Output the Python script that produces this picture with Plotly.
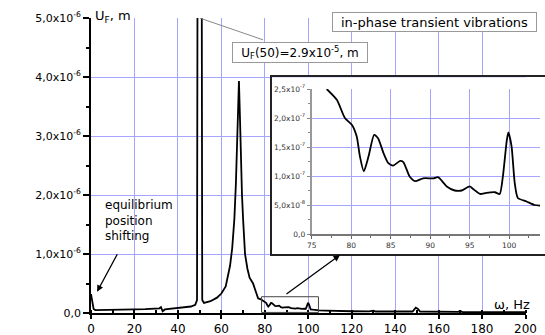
import plotly.graph_objects as go

# ---------------- data ----------------
# main curve, low-frequency part (x in Hz, y in 1e-6 m)
low_x = [0, 0.3, 0.7, 1.2, 2, 5, 10, 15, 20, 25, 30, 31.5, 32.2, 33, 34, 36, 40, 44, 46, 48, 48.8,
         50, 51.2, 52, 55, 58, 60, 62, 63, 64, 65, 66, 66.7, 67.3, 67.8, 68.1, 68.5, 69, 69.5,
         70, 70.9, 72, 73, 74.6, 76]
low_y = [0.32, 0.25, 0.12, 0.07, 0.05, 0.05, 0.05, 0.055, 0.06, 0.065, 0.07, 0.08, 0.10, 0.03, 0.06,
         0.07, 0.08, 0.10, 0.11, 0.14, 0.22,
         29.0, 0.22, 0.17, 0.20, 0.26, 0.33, 0.45, 0.6, 0.8, 1.1, 1.6, 2.2, 3.0, 3.7, 3.93, 3.4, 2.6,
         2.0, 1.6, 1.0, 0.75, 0.6, 0.5, 0.33]

# zoomed region (x in Hz, y in 1e-7 m)
zoom_x = [76.9, 78.2, 79.2, 80.1, 80.7, 81.1, 81.6, 82.2, 82.9, 83.4, 84.1, 84.7, 85.3, 86.2, 86.6,
          87.4, 88.1, 89.1, 90.4, 91.0, 92.1, 93.1, 94.0, 95.0, 95.4, 96.3, 97.1, 98.2, 98.8, 99.2,
          99.7, 99.9, 100.3, 100.7, 101.1, 102.2, 103.2, 103.9]
zoom_y = [2.50, 2.31, 2.00, 1.88, 1.68, 1.34, 1.08, 1.34, 1.71, 1.65, 1.39, 1.22, 1.18, 1.26, 1.24,
          0.99, 0.91, 0.96, 0.96, 0.98, 0.82, 0.75, 0.75, 0.82, 0.78, 0.69, 0.71, 0.72, 0.69, 0.99,
          1.62, 1.75, 1.51, 0.88, 0.62, 0.56, 0.50, 0.49]

# main curve, high-frequency part (x in Hz, y in 1e-6 m)
high_x = [105, 108, 112, 120, 128, 130, 131, 140, 148, 149.5, 150.5, 151.5, 160, 169, 170, 171,
          180, 190, 200]
high_y = [0.045, 0.04, 0.035, 0.03, 0.028, 0.04, 0.025, 0.025, 0.025, 0.09, 0.07, 0.025, 0.02,
          0.02, 0.035, 0.015, 0.015, 0.015, 0.015]

main_tickvals = [0, 1e-6, 2e-6, 3e-6, 4e-6, 5e-6]
main_ticktext = ["0,0", "1,0x10<sup>-6</sup>", "2,0x10<sup>-6</sup>", "3,0x10<sup>-6</sup>",
                 "4,0x10<sup>-6</sup>", "5,0x10<sup>-6</sup>"]
inset_tickvals = [0, 0.5e-7, 1.0e-7, 1.5e-7, 2.0e-7, 2.5e-7]
inset_ticktext = ["0,0", "5,0x10<sup>-8</sup>", "1,0x10<sup>-7</sup>", "1,5x10<sup>-7</sup>",
                  "2,0x10<sup>-7</sup>", "2,5x10<sup>-7</sup>"]

# ---------------- figure ----------------
W, H = 545, 335
FONT = "DejaVu Sans"
GRID = "rgb(165,165,255)"


def px(p):
    return p / W


def py(p):
    return 1 - p / H


main_x = low_x + zoom_x + high_x
main_y = [v * 1e-6 for v in low_y] + [v * 1e-7 for v in zoom_y] + [v * 1e-6 for v in high_y]

fig = go.Figure()
fig.add_trace(go.Scatter(x=main_x, y=main_y, mode="lines", xaxis="x", yaxis="y",
                         line=dict(color="black", width=1.8), hoverinfo="skip"))
# cover subplot (white box of the inset)
fig.add_trace(go.Scatter(x=[0], y=[0], mode="markers", xaxis="x2", yaxis="y2",
                         marker=dict(opacity=0), hoverinfo="skip"))
fig.add_trace(go.Scatter(x=zoom_x, y=[v * 1e-7 for v in zoom_y], mode="lines", xaxis="x3", yaxis="y3",
                         line=dict(color="black", width=1.8, shape="spline", smoothing=0.6),
                         hoverinfo="skip"))

fig.update_layout(
    width=W, height=H, margin=dict(l=0, r=0, t=0, b=0, autoexpand=False),
    paper_bgcolor="white", plot_bgcolor="white", showlegend=False,
    font=dict(family=FONT, color="black", size=11),
    xaxis=dict(domain=[px(91), px(525.5)], range=[0, 200], anchor="y", automargin=False,
               tickvals=list(range(0, 201, 20)), ticks="outside", ticklen=4, tickwidth=1.5,
               tickcolor="black", showline=True, linecolor="black", linewidth=1.7,
               showgrid=True, gridcolor=GRID, gridwidth=1, zeroline=False,
               minor=dict(dtick=10, tick0=0, ticks="inside", ticklen=3, tickcolor="black",
                          showgrid=False),
               tickfont=dict(size=12, family=FONT)),
    yaxis=dict(domain=[py(313), py(18)], range=[0, 5e-6], anchor="x", automargin=False,
               tickvals=main_tickvals, ticktext=main_ticktext, ticks="outside", ticklen=6,
               tickwidth=1.5, tickcolor="black", showline=True, linecolor="black", linewidth=1.7,
               showgrid=True, gridcolor=GRID, gridwidth=1, zeroline=False,
               minor=dict(dtick=0.5e-6, tick0=0, ticks="outside", ticklen=3, tickcolor="black",
                          showgrid=False),
               tickfont=dict(size=11, family=FONT)),
    xaxis2=dict(domain=[px(271.7), 1.0], range=[0, 1], anchor="y2", showgrid=False,
                automargin=False, zeroline=False, showticklabels=False, ticks="", showline=True,
                mirror=True, linecolor="#222", linewidth=2),
    yaxis2=dict(domain=[py(254), py(77.3)], range=[0, 1], anchor="x2", showgrid=False,
                automargin=False, zeroline=False, showticklabels=False, ticks="", showline=True,
                linecolor="#222", linewidth=2),
    xaxis3=dict(domain=[px(311.7), px(540)], range=[75, 103.9], anchor="y3", automargin=False,
                tickvals=[75, 80, 85, 90, 95, 100], ticks="outside", ticklen=3, tickcolor="#666",
                showline=True, linecolor="#777", linewidth=1.5, showgrid=True, gridcolor=GRID,
                gridwidth=1, zeroline=False,
                minor=dict(dtick=2.5, tick0=75, ticks="outside", ticklen=2, tickcolor="#666",
                           showgrid=False),
                tickfont=dict(size=7.5, family=FONT, color="#333")),
    yaxis3=dict(domain=[py(234), py(89)], range=[0, 2.5e-7], anchor="x3", automargin=False,
                tickvals=inset_tickvals, ticktext=inset_ticktext, ticks="outside", ticklen=3,
                tickcolor="#888", showline=True, linecolor="#999", linewidth=2, showgrid=True,
                gridcolor=GRID, gridwidth=1, zeroline=False,
                minor=dict(dtick=0.25e-7, tick0=0, ticks="outside", ticklen=2, tickcolor="#888",
                           showgrid=False),
                tickfont=dict(size=7.5, family=FONT, color="#333")),
)

# zoom rectangle on main plot
fig.add_shape(type="rect", xref="x", yref="y", x0=78.5, x1=104.7, y0=0.01e-6, y1=0.276e-6,
              line=dict(color="#444", width=1), layer="above")
# leader line from the clipped peak to its label
fig.add_shape(type="line", xref="x", yref="y", x0=50, y0=5e-6, x1=79.2, y1=4.63e-6,
              line=dict(color="#888", width=1), layer="above")

ann = []
# axis titles
ann.append(dict(x=px(93), y=py(17), xref="paper", yref="paper", xanchor="left", yanchor="middle",
                text="U<sub>F</sub>, m", showarrow=False, font=dict(size=13, family=FONT)))
ann.append(dict(x=px(532), y=py(304), xref="paper", yref="paper", xanchor="right", yanchor="middle",
                text="ω, Hz", showarrow=False, font=dict(size=13, family=FONT)))
# title box
ann.append(dict(x=px(434.5), y=py(22), xref="paper", yref="paper", xanchor="center",
                yanchor="middle", text="in-phase transient vibrations", showarrow=False,
                font=dict(size=13, family=FONT), bgcolor="white", bordercolor="#999",
                borderwidth=1, borderpad=1, width=201, height=16))
# peak value box
ann.append(dict(x=px(300), y=py(52.5), xref="paper", yref="paper", xanchor="center",
                yanchor="middle", text="U<sub>F</sub>(50)=2.9x10<sup>-5</sup>, m", showarrow=False,
                font=dict(size=12, family=FONT), bgcolor="white", bordercolor="#999",
                borderwidth=1, borderpad=1, width=132, height=17))
# equilibrium text
ann.append(dict(x=px(103), y=py(220), xref="paper", yref="paper", xanchor="left",
                yanchor="middle", align="left", text="equilibrium<br>position<br>shifting",
                showarrow=False, font=dict(size=12, family=FONT)))
# arrows
ann.append(dict(x=2.8, y=0.36e-6, xref="x", yref="y", text="", showarrow=True, arrowhead=2,
                arrowsize=1, arrowwidth=1.3, arrowcolor="black", ax=21, ay=-39))
ann.append(dict(x=114.6, y=0.983e-6, xref="x", yref="y", text="", showarrow=True, arrowhead=2,
                arrowsize=1, arrowwidth=1.3, arrowcolor="black", ax=-55, ay=40))
fig.update_layout(annotations=ann)

fig.write_html("out.html")
